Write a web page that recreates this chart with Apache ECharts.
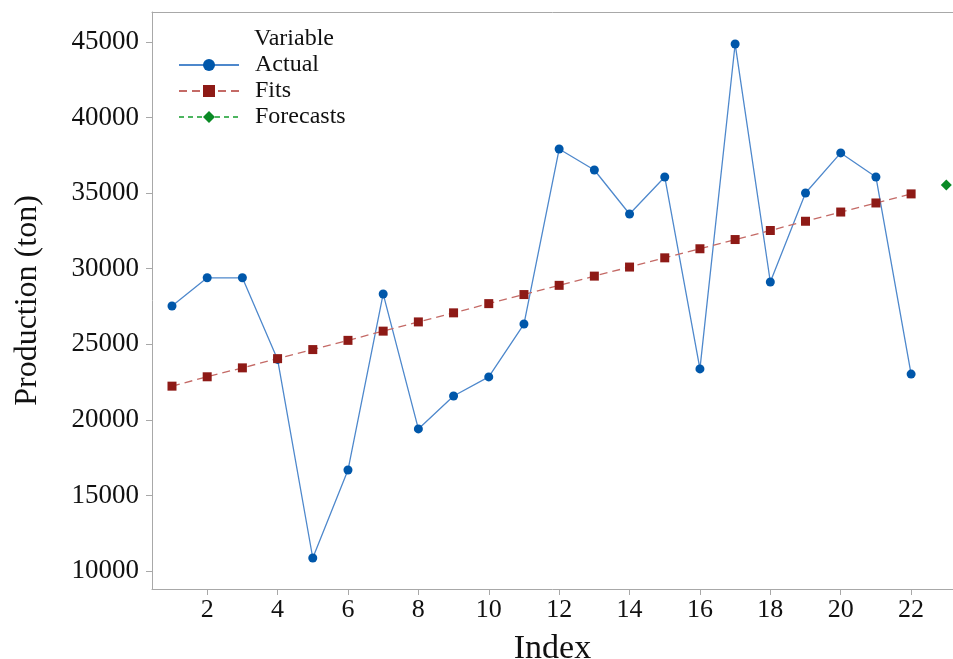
<!DOCTYPE html>
<html>
<head>
<meta charset="utf-8">
<script src="https://cdn.jsdelivr.net/npm/echarts@6/dist/echarts.min.js"></script>
<style>html,body{margin:0;padding:0;background:#fff}#c{width:953px;height:659px}</style>
</head>
<body>
<div id="c"></div>
<script>
const indexValues = [1,2,3,4,5,6,7,8,9,10,11,12,13,14,15,16,17,18,19,20,21,22];
const actual = [27530,29400,29400,24000,10860,16680,28330,19400,21580,22840,26340,37920,36530,33620,36070,23370,44870,29120,35010,37660,36070,23030];
const fits = [22230,22850,23440,24050,24650,25260,25870,26480,27080,27690,28290,28900,29510,30110,30720,31320,31930,32530,33140,33750,34350,34950];
const forecastIndex = [23];
const forecasts = [35540];
const xTicks = [2,4,6,8,10,12,14,16,18,20,22];
const yTicks = [10000,15000,20000,25000,30000,35000,40000,45000];

const serif = '"Liberation Serif", "DejaVu Serif", serif';
const pair = (xs, ys) => xs.map((x, i) => [x, ys[i]]);
const plain = v => String(v);

const chart = echarts.init(document.getElementById('c'), null, {renderer: 'canvas'});
chart.setOption({
  animation: false,
  backgroundColor: '#fff',
  title: {
    text: 'Variable', left: 249, top: 22,
    textStyle: {fontFamily: serif, fontSize: 24, fontWeight: 'normal', color: '#111'}
  },
  legend: {
    left: 173, top: 48, orient: 'vertical',
    itemWidth: 60, itemHeight: 15, itemGap: 2,
    textStyle: {fontFamily: serif, fontSize: 24, color: '#111', padding: [0,0,0,11], lineHeight: 24},
    data: ['Actual', 'Fits', 'Forecasts']
  },
  grid: {left: 152, right: 0, top: 12, bottom: 70, show: false, outerBoundsMode: 'none', containLabel: false},
  xAxis: [{
    type: 'value', min: 0.432, max: 23.19,
    name: 'Index', nameLocation: 'middle', nameGap: 43,
    nameTextStyle: {fontFamily: serif, fontSize: 34, color: '#111'},
    axisLine: {show: true, lineStyle: {color: '#a8a8a8'}},
    axisTick: {show: true, length: 6, lineStyle: {color: '#a8a8a8'}, customValues: xTicks},
    axisLabel: {fontFamily: serif, fontSize: 26, color: '#111', margin: 8, customValues: xTicks, formatter: plain},
    splitLine: {show: false}
  }, {
    type: 'value', min: 0.432, max: 23.19, position: 'top',
    axisLine: {show: true, lineStyle: {color: '#a8a8a8'}},
    axisTick: {show: false}, axisLabel: {show: false}, splitLine: {show: false}
  }],
  yAxis: {
    type: 'value', min: 8809, max: 46985,
    name: 'Production (ton)', nameLocation: 'middle', nameGap: 108,
    nameTextStyle: {fontFamily: serif, fontSize: 32, color: '#111'},
    axisLine: {show: true, lineStyle: {color: '#a8a8a8'}},
    axisTick: {show: true, length: 6, lineStyle: {color: '#a8a8a8'}, customValues: yTicks},
    axisLabel: {fontFamily: serif, fontSize: 27, color: '#111', margin: 13, customValues: yTicks, formatter: plain},
    splitLine: {show: false}
  },
  series: [
    {
      name: 'Actual', type: 'line', data: pair(indexValues, actual),
      symbol: 'circle', symbolSize: 9,
      itemStyle: {color: '#0057AA'},
      lineStyle: {color: '#4E88CC', width: 1.3}
    },
    {
      name: 'Fits', type: 'line', data: pair(indexValues, fits),
      symbol: 'rect', symbolSize: 9,
      itemStyle: {color: '#8E1A16'},
      lineStyle: {color: '#C46A66', width: 1.3, type: [8, 5]}
    },
    {
      name: 'Forecasts', type: 'line', data: pair(forecastIndex, forecasts),
      symbol: 'diamond', symbolSize: 11,
      itemStyle: {color: '#0A8A25'},
      lineStyle: {color: '#4DB560', width: 1.3, type: [5, 4]}
    }
  ]
});
</script>
</body>
</html>
